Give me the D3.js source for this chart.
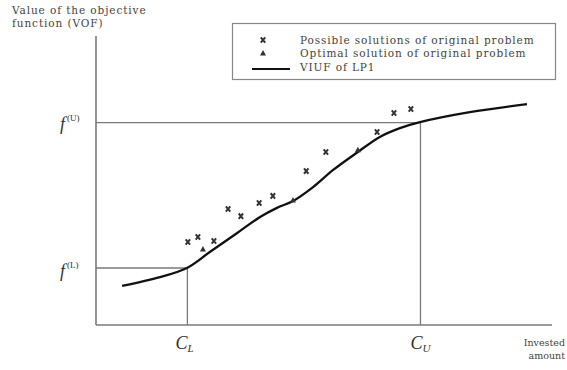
<!DOCTYPE html>
<html><head><meta charset="utf-8">
<script src="https://cdn.jsdelivr.net/npm/d3@7"></script>
<style>body{margin:0;background:#fff}svg{display:block}</style>
</head><body>
<svg id="c" width="567" height="370"></svg>
<script>
// Data (abstract units: invested amount 0-100, VOF 0-100)
const curveX = [5.7, 14.0, 19.9, 24.9, 30.9, 35.9, 39.6, 43.1, 47.5, 51.9, 57.3, 62.1, 66.5, 70.9, 81.8, 94.3];
const curveY = [13.7, 16.8, 20.0, 25.6, 32.3, 37.9, 41.1, 43.5, 48.4, 54.4, 60.7, 66.0, 69.1, 71.2, 74.7, 77.5];
const possibleX = [20.1, 22.3, 25.8, 28.9, 31.7, 35.7, 38.7, 46.0, 50.3, 61.5, 65.2, 68.9];
const possibleY = [29.1, 30.9, 29.5, 40.7, 38.2, 42.8, 45.3, 54.0, 60.7, 67.7, 74.4, 75.8];
const optimalX = [23.4, 43.1, 57.3];
const optimalY = [26.3, 43.5, 61.1];
const CL = 20, CU = 71, fL = 20, fU = 71;
const legendLabels = ["Possible solutions of original problem", "Optimal solution of original problem", "VIUF of LP1"];

const svg = d3.select("#c");
const x = d3.scaleLinear().domain([0, 100]).range([96, 553]);
const y = d3.scaleLinear().domain([0, 100]).range([325, 40]);
const axisCol = "#7a7a7a";
const serif = "'DejaVu Serif', 'Liberation Serif', serif";
const tserif = "'Liberation Serif', serif";
const txtCol = "#444";
const fs = 10.5, ls = 0.9;

// axes
svg.append("line").attr("x1", x(0)).attr("x2", x(0)).attr("y1", y(0)).attr("y2", 36)
  .attr("stroke", axisCol).attr("stroke-width", 1.6);
svg.append("line").attr("x1", x(0)).attr("x2", 552).attr("y1", y(0)).attr("y2", y(0))
  .attr("stroke", axisCol).attr("stroke-width", 1.6);

// reference lines
const ref = [[0, fU, CU, fU], [CU, fU, CU, 0], [0, fL, CL, fL], [CL, fL, CL, 0]];
svg.selectAll(".ref").data(ref).enter().append("line")
  .attr("x1", d => x(d[0])).attr("y1", d => y(d[1])).attr("x2", d => x(d[2])).attr("y2", d => y(d[3]))
  .attr("stroke", axisCol).attr("stroke-width", 1.3);

// curve
const pts = curveX.map((v, i) => [v, curveY[i]]);
svg.append("path").datum(pts)
  .attr("d", d3.line().x(d => x(d[0])).y(d => y(d[1])).curve(d3.curveCatmullRom))
  .attr("fill", "none").attr("stroke", "#111").attr("stroke-width", 2.3);

// possible solutions (x marks)
const cross = (cx, cy, s) => `M${cx - s},${cy - s * 1.2}L${cx + s},${cy + s * 1.2}M${cx + s},${cy - s * 1.2}L${cx - s},${cy + s * 1.2}`;
svg.selectAll(".pos").data(possibleX.map((v, i) => [v, possibleY[i]])).enter().append("path")
  .attr("d", d => cross(x(d[0]), y(d[1]), 2.2))
  .attr("stroke", "#333").attr("stroke-width", 2).attr("fill", "none");

// optimal solutions (small triangles)
const tri = (cx, cy, s) => `M${cx},${cy - s}L${cx + s},${cy + s * 0.8}L${cx - s},${cy + s * 0.8}Z`;
svg.selectAll(".opt").data(optimalX.map((v, i) => [v, optimalY[i]])).enter().append("path")
  .attr("d", d => tri(x(d[0]), y(d[1]) - 1, 3))
  .attr("fill", "#333");

// legend
const lg = svg.append("g");
lg.append("rect").attr("x", 232.5).attr("y", 23.5).attr("width", 323).attr("height", 56)
  .attr("fill", "#fff").attr("stroke", "#888").attr("stroke-width", 1.2);
lg.append("path").attr("d", cross(263, 40, 2.2)).attr("stroke", "#333").attr("stroke-width", 2);
lg.append("path").attr("d", tri(263, 53, 3)).attr("fill", "#333");
lg.append("line").attr("x1", 252).attr("x2", 290).attr("y1", 69).attr("y2", 69).attr("stroke", "#111").attr("stroke-width", 2);
lg.selectAll(".lt").data(legendLabels).enter().append("text")
  .attr("x", 300).attr("y", (d, i) => 43.5 + i * 13.5)
  .attr("font-family", serif).attr("font-size", fs).attr("letter-spacing", ls).attr("fill", txtCol).text(d => d);

// axis titles
const t1 = svg.append("text").attr("font-family", serif).attr("font-size", fs).attr("letter-spacing", ls).attr("fill", txtCol);
t1.append("tspan").attr("x", 12).attr("y", 14).text("Value of the objective");
t1.append("tspan").attr("x", 12).attr("y", 27).text("function (VOF)");
const t2 = svg.append("text").attr("font-family", serif).attr("font-size", 9.5).attr("fill", txtCol).attr("text-anchor", "end");
t2.append("tspan").attr("x", 565).attr("y", 346).text("Invested");
t2.append("tspan").attr("x", 565).attr("y", 359).text("amount");

// f labels
function fLabel(yy, sup) {
  const t = svg.append("text").attr("x", 60).attr("y", yy).attr("font-family", tserif).attr("fill", "#333");
  t.append("tspan").attr("font-size", 18).attr("font-style", "italic").text("f");
  t.append("tspan").attr("font-size", 9).attr("dy", -9).attr("dx", 2).text(sup);
}
fLabel(y(fU) + 7, "(U)");
fLabel(y(fL) + 9, "(L)");

// C labels
function cLabel(xx, sub) {
  const t = svg.append("text").attr("x", xx).attr("y", 349).attr("font-family", tserif).attr("fill", "#333");
  t.append("tspan").attr("font-size", 18).attr("font-style", "italic").text("C");
  t.append("tspan").attr("font-size", 11).attr("font-style", "italic").attr("dy", 3).text(sub);
}
cLabel(x(CL) - 12, "L");
cLabel(x(CU) - 10, "U");
</script>
</body></html>
